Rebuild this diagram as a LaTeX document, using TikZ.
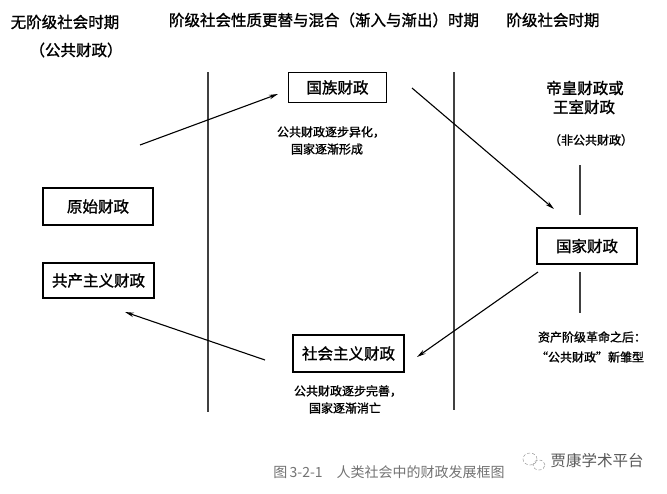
\documentclass[tikz,border=0pt]{standalone}
\usepackage{fontspec}
\usetikzlibrary{arrows.meta}
\newfontfamily\cjk[FakeBold=1.3]{Noto Sans CJK SC}
\newfontfamily\cjklight{Noto Sans CJK SC}
\begin{document}
\begin{tikzpicture}[x=1pt,y=-1pt,
  title/.style={font=\cjk\fontsize{15.5}{18}\selectfont, inner sep=0pt},
  fbox/.style={draw, line width=1.1pt, font=\cjk\fontsize{15.5}{18}\selectfont, inner sep=0pt},
  note/.style={font=\cjk\fontsize{12}{14}\selectfont, inner sep=0pt},
  divider/.style={draw=black!75, line width=1.1pt},
  flow/.style={line width=1.1pt, -{Stealth[length=9pt,width=4.5pt]}}]
\useasboundingbox (0,0) rectangle (667,493);
\fill[white] (0,0) rectangle (667,493);

% period titles
\node[title] (t1) at (65,22) {无阶级社会时期};
\node[title] (t1b) at (76,50) {（公共财政）};
\node[title] (t2) at (324,20) {阶级社会性质更替与混合（渐入与渐出）时期};
\node[title] (t3) at (553,20) {阶级社会时期};

% dividers
\coordinate (d1t) at (208,72);
\coordinate (d1b) at (208,412);
\coordinate (d2t) at (454,72);
\coordinate (d2b) at (454,410);
\draw[divider] (d1t) -- (d1b);
\draw[divider] (d2t) -- (d2b);

% boxes
\node[fbox, minimum width=98pt, minimum height=30pt] (gz) at (337.5,87.5) {国族财政};
\node[fbox, minimum width=100pt, minimum height=36pt] (gj) at (587,246) {国家财政};
\node[fbox, minimum width=111pt, minimum height=37pt] (sh) at (348.5,353.5) {社会主义财政};
\node[fbox, minimum width=110pt, minimum height=37pt] (ys) at (98,206.5) {原始财政};
\node[fbox, minimum width=111pt, minimum height=35pt] (gc) at (98.5,280.5) {共产主义财政};

% notes
\node[note] (n1a) at (331,132) {公共财政逐步异化，};
\node[note] (n1b) at (327,149) {国家逐渐形成};
\node[note] (n2a) at (348,391) {公共财政逐步完善，};
\node[note] (n2b) at (345,408) {国家逐渐消亡};
\node[title] (dh1) at (585,88) {帝皇财政或};
\node[title] (dh2) at (584,107) {王室财政};
\node[note] (dh3) at (591,140) {（非公共财政）};
\node[note] (zc1) at (592,337) {资产阶级革命之后：};
\node[note] (zc2) at (590,357) {“公共财政”新雏型};

% short vertical lines at right
\coordinate (v1t) at (580,165);
\coordinate (v1b) at (580,215);
\coordinate (v2t) at (580,272);
\coordinate (v2b) at (580,313);
\draw[divider] (v1t) -- (v1b);
\draw[divider] (v2t) -- (v2b);

% flow arrows
\coordinate (a1s) at (140,145);
\coordinate (a1e) at (278,94);
\coordinate (a2s) at (412,88);
\coordinate (a2e) at (554,209);
\coordinate (a3s) at (538,272);
\coordinate (a3e) at (417,357);
\coordinate (a4s) at (265,360);
\coordinate (a4e) at (125,312);
\draw[flow] (a1s) -- (a1e);
\draw[flow] (a2s) -- (a2e);
\draw[flow] (a3s) -- (a3e);
\draw[flow] (a4s) -- (a4e);

% caption
\node[inner sep=0pt, text=black!55, font=\cjklight\fontsize{14}{16}\selectfont] (cap) at (389,472) {图\,3-2-1\quad 人类社会中的财政发展框图};

% watermark
\draw[black!40, densely dashed, line width=0.5pt] (530,459) ellipse (7pt and 6pt);
\draw[black!40, densely dashed, line width=0.5pt] (539,465) ellipse (6pt and 5pt);
\node[inner sep=0pt, text=black!65, font=\cjklight\fontsize{15.5}{18}\selectfont] (wm) at (597,461) {贾康学术平台};
\end{tikzpicture}
\end{document}
